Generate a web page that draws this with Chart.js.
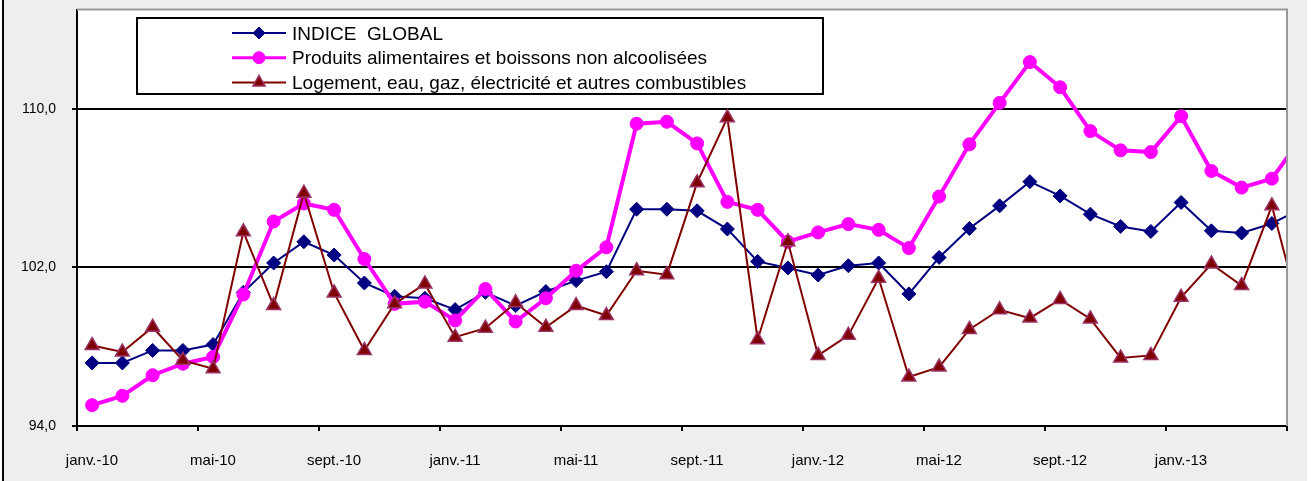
<!DOCTYPE html>
<html><head><meta charset="utf-8">
<script src="https://cdn.jsdelivr.net/npm/chart.js@4/dist/chart.umd.min.js"></script>
<style>
html,body{margin:0;padding:0;background:#fff;}
#wrap{position:relative;width:1311px;height:481px;overflow:hidden;}
#frame{position:absolute;left:2px;top:0;width:1305px;height:481px;background:#eeeeee;border-left:2px solid #000;box-sizing:border-box;}
canvas{position:absolute;left:0;top:0;}
</style></head><body>
<div id="wrap"><div id="frame"></div><canvas id="c" width="1311" height="481"></canvas></div>
<script>
// ---- data ----
const months = [
  "janv.-10","févr.-10","mars-10","avr.-10","mai-10","juin-10","juil.-10","août-10","sept.-10","oct.-10","nov.-10","déc.-10",
  "janv.-11","févr.-11","mars-11","avr.-11","mai-11","juin-11","juil.-11","août-11","sept.-11","oct.-11","nov.-11","déc.-11",
  "janv.-12","févr.-12","mars-12","avr.-12","mai-12","juin-12","juil.-12","août-12","sept.-12","oct.-12","nov.-12","déc.-12",
  "janv.-13","févr.-13","mars-13","avr.-13","mai-13"
];
const indiceGlobal = [
  97.18, 97.18, 97.81, 97.81, 98.11, 100.74, 102.22, 103.29, 102.62, 101.21, 100.54, 100.44,
  99.87, 100.74, 100.07, 100.78, 101.33, 101.78, 104.93, 104.93, 104.85, 103.93, 102.30, 101.97,
  101.61, 102.08, 102.22, 100.66, 102.50, 103.96, 105.10, 106.32, 105.60, 104.68, 104.06, 103.81,
  105.27, 103.84, 103.73, 104.21, 104.98
];
const alimentaires = [
  95.05, 95.52, 96.56, 97.14, 97.48, 100.63, 104.31, 105.22, 104.90, 102.42, 100.16, 100.27,
  99.32, 100.91, 99.27, 100.44, 101.83, 103.01, 109.24, 109.34, 108.25, 105.30, 104.90, 103.29,
  103.76, 104.18, 103.89, 102.97, 105.57, 108.20, 110.29, 112.35, 111.08, 108.87, 107.90, 107.81,
  109.62, 106.86, 106.02, 106.47, 108.58
];
const logement = [
  98.06, 97.73, 98.98, 97.31, 96.89, 103.79, 100.07, 105.74, 100.71, 97.81, 100.16, 101.16,
  98.48, 98.93, 100.21, 98.98, 100.07, 99.57, 101.83, 101.63, 106.27, 109.54, 98.35, 103.29,
  97.56, 98.57, 101.45, 96.47, 96.97, 98.87, 99.86, 99.44, 100.38, 99.40, 97.43, 97.56,
  100.49, 102.17, 101.08, 105.10, 99.30
];
const seriesNames = [
  "INDICE  GLOBAL",
  "Produits alimentaires et boissons non alcoolisées",
  "Logement, eau, gaz, électricité et autres combustibles"
];
const yTicks = [94, 102, 110];
const yMin = 94, yMax = 115;
const visibleMonths = 40;
const labelEvery = 4;

const FONT = '"Liberation Sans", Arial, Helvetica, sans-serif';
Chart.defaults.font.family = FONT;

const toXY = arr => arr.map((v, i) => ({x: i, y: v}));

// ---- plugins ----
const plotBg = {
  id: 'plotBg',
  beforeDraw(chart) {
    const {ctx, chartArea: a} = chart;
    ctx.save();
    ctx.fillStyle = '#ffffff';
    ctx.fillRect(a.left, a.top, a.right - a.left, a.bottom - a.top);
    ctx.restore();
  },
  afterDraw(chart) {
    const {ctx, chartArea: a} = chart;
    ctx.save();
    ctx.strokeStyle = '#9a9a9a';
    ctx.lineWidth = 2;
    ctx.beginPath();
    ctx.moveTo(a.left, a.top);
    ctx.lineTo(a.right, a.top);
    ctx.lineTo(a.right, a.bottom);
    ctx.stroke();
    ctx.restore();
  }
};

const boxLegend = {
  id: 'boxLegend',
  afterDraw(chart) {
    const {ctx} = chart;
    const bx = 137, by = 18, bw = 686, bh = 76;
    ctx.save();
    ctx.fillStyle = '#ffffff';
    ctx.fillRect(bx, by, bw, bh);
    ctx.strokeStyle = '#000';
    ctx.lineWidth = 2;
    ctx.strokeRect(bx, by, bw, bh);
    chart.data.datasets.forEach((ds, i) => {
      const y = 33 + 24.7 * i;
      ctx.strokeStyle = ds.borderColor;
      ctx.lineWidth = ds.legendLineWidth || ds.borderWidth;
      ctx.beginPath();
      ctx.moveTo(232, y);
      ctx.lineTo(286, y);
      ctx.stroke();
      ctx.fillStyle = ds.pointBackgroundColor;
      ctx.strokeStyle = ds.pointBorderColor;
      ctx.lineWidth = ds.pointBorderWidth;
      Chart.helpers.drawPoint(ctx, {
        pointStyle: ds.pointStyle, rotation: 0,
        radius: ds.legendRadius || ds.pointRadius, borderWidth: ds.pointBorderWidth
      }, 259, y);
      ctx.fillStyle = '#000';
      ctx.font = '19px ' + FONT;
      ctx.textBaseline = 'alphabetic';
      ctx.textAlign = 'left';
      ctx.fillText(ds.label, 292, y + 6.5);
    });
    ctx.restore();
  }
};

new Chart(document.getElementById('c'), {
  type: 'line',
  data: {
    datasets: [
      {
        label: seriesNames[0], data: toXY(indiceGlobal),
        borderColor: '#000080', borderWidth: 2,
        pointStyle: 'rectRot', pointRadius: 7,
        pointBackgroundColor: '#000080', pointBorderColor: '#000080', pointBorderWidth: 1,
        legendRadius: 6,
        order: 3, tension: 0
      },
      {
        label: seriesNames[1], data: toXY(alimentaires),
        borderColor: '#ff00ff', borderWidth: 4, legendLineWidth: 3,
        pointStyle: 'circle', pointRadius: 6.5,
        pointBackgroundColor: '#ff00ff', pointBorderColor: '#ff00ff', pointBorderWidth: 1,
        legendRadius: 6,
        order: 2, tension: 0
      },
      {
        label: seriesNames[2], data: toXY(logement),
        borderColor: '#800000', borderWidth: 2,
        pointStyle: 'triangle', pointRadius: 8,
        pointBackgroundColor: '#800000', pointBorderColor: '#993366', pointBorderWidth: 1.5,
        legendRadius: 7,
        order: 1, tension: 0
      }
    ]
  },
  options: {
    responsive: false,
    devicePixelRatio: 1,
    animation: false,
    layout: {padding: {left: 0, top: 6, right: 24, bottom: 0}},
    plugins: {legend: {display: false}, tooltip: {enabled: false}},
    scales: {
      x: {
        type: 'linear',
        min: -0.5,
        max: visibleMonths - 0.5,
        afterBuildTicks(s) {
          const t = [];
          for (let v = -0.5; v <= visibleMonths - 0.5; v += labelEvery) t.push({value: v});
          s.ticks = t;
        },
        afterFit(s) { s.height = 55; s.paddingLeft = 0; s.paddingRight = 0; },
        ticks: {
          autoSkip: false, maxRotation: 0, minRotation: 0,
          labelOffset: 15,
          padding: 21,
          color: '#000',
          font: {size: 15},
          callback(v) { const i = v + 0.5; return i < visibleMonths ? months[i] : ''; }
        },
        grid: {drawOnChartArea: false, drawTicks: true, tickLength: 5, color: '#000', lineWidth: 2},
        border: {color: '#000', width: 2}
      },
      y: {
        min: yMin, max: yMax,
        afterBuildTicks(s) { s.ticks = yTicks.map(v => ({value: v})); },
        afterFit(s) { s.width = 77; s.paddingTop = 0; s.paddingBottom = 0; },
        ticks: {
          padding: 16, color: '#000', font: {size: 14},
          callback(v) { return v.toFixed(1).replace('.', ','); }
        },
        grid: {color: '#000', lineWidth: 2, tickLength: 5, drawTicks: true},
        border: {color: '#000', width: 2}
      }
    }
  },
  plugins: [plotBg, boxLegend]
});
</script>
</body></html>
